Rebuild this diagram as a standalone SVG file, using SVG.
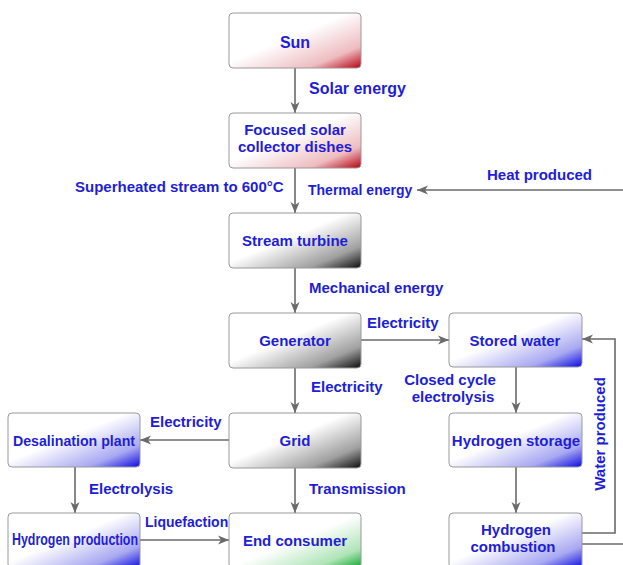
<svg xmlns="http://www.w3.org/2000/svg" width="623" height="565" viewBox="0 0 623 565">
<defs>
<style>
.box{stroke:#9a9a9a;stroke-width:1}
.t{font-family:"Liberation Sans",Arial,sans-serif;font-weight:bold;font-size:15px;fill:#1e1ed8;text-anchor:middle}
.l{font-family:"Liberation Sans",Arial,sans-serif;font-weight:bold;font-size:15px;fill:#1e1ed8}
.c{fill:none;stroke:#6a6a6a;stroke-width:1.6}
</style>
<marker id="ah" markerUnits="userSpaceOnUse" markerWidth="12" markerHeight="10" refX="11" refY="5" orient="auto">
<path d="M0,0.5 L11,5 L0,9.5 L3,5 Z" fill="#6a6a6a"/>
</marker>
<linearGradient id="gr" x1="0" y1="0" x2="1" y2="1"><stop offset="0" stop-color="#fff"/><stop offset="0.45" stop-color="#fff"/><stop offset="0.8" stop-color="#eebcc0"/><stop offset="1" stop-color="#b80010"/></linearGradient>
<linearGradient id="gk" x1="0" y1="0" x2="1" y2="1"><stop offset="0" stop-color="#fff"/><stop offset="0.45" stop-color="#fff"/><stop offset="0.8" stop-color="#a0a0a0"/><stop offset="1" stop-color="#0c0c0c"/></linearGradient>
<linearGradient id="gb" x1="0" y1="0" x2="1" y2="1"><stop offset="0" stop-color="#fff"/><stop offset="0.45" stop-color="#fff"/><stop offset="0.8" stop-color="#a8a8f2"/><stop offset="1" stop-color="#0a0ae0"/></linearGradient>
<linearGradient id="gg" x1="0" y1="0" x2="1" y2="1"><stop offset="0" stop-color="#fff"/><stop offset="0.5" stop-color="#fff"/><stop offset="0.82" stop-color="#b0e4b8"/><stop offset="1" stop-color="#08a828"/></linearGradient>
</defs>
<rect width="623" height="565" fill="#fff"/>
<g id="connectors">
<path class="c" d="M295,68 V113" marker-end="url(#ah)"/>
<path class="c" d="M295,168 V213" marker-end="url(#ah)"/>
<path class="c" d="M623,190 H417" marker-end="url(#ah)"/>
<path class="c" d="M295,268 V313" marker-end="url(#ah)"/>
<path class="c" d="M361,340 H449" marker-end="url(#ah)"/>
<path class="c" d="M295,368 V413" marker-end="url(#ah)"/>
<path class="c" d="M516,367 V413" marker-end="url(#ah)"/>
<path class="c" d="M516,467 V513" marker-end="url(#ah)"/>
<path class="c" d="M582,533 H615 V339 H582" marker-end="url(#ah)"/>
<path class="c" d="M582,544 H623"/>
<path class="c" d="M229,440 H140" marker-end="url(#ah)"/>
<path class="c" d="M75,467 V513" marker-end="url(#ah)"/>
<path class="c" d="M295,468 V513" marker-end="url(#ah)"/>
<path class="c" d="M140,540 H229" marker-end="url(#ah)"/>
<text class="l" x="309" y="94" style="font-size:16px">Solar energy</text>
<text class="l" x="75" y="192">Superheated stream to 600°C</text>
<text class="l" x="308" y="195" style="font-size:14px">Thermal energy</text>
<text class="l" x="487" y="180">Heat produced</text>
<text class="l" x="309" y="293">Mechanical energy</text>
<text class="l" x="367" y="328">Electricity</text>
<text class="l" x="311" y="392">Electricity</text>
<text class="t" x="450" y="385">Closed cycle</text>
<text class="t" x="453" y="402">electrolysis</text>
<text class="t" x="600" y="434" transform="rotate(-90 600 434)" dy="5">Water produced</text>
<text class="l" x="150" y="427">Electricity</text>
<text class="l" x="89" y="494">Electrolysis</text>
<text class="l" x="309" y="494">Transmission</text>
<text class="l" x="145" y="527" style="font-size:14px">Liquefaction</text>
</g>
<g id="sun"><rect class="box" x="229" y="13" width="132" height="55" rx="4" fill="url(#gr)"/><text class="t" x="295" y="48" style="font-size:16px">Sun</text></g>
<g id="collector"><rect class="box" x="229" y="113" width="132" height="55" rx="4" fill="url(#gr)"/><text class="t" x="295" y="135">Focused solar</text><text class="t" x="295" y="152">collector dishes</text></g>
<g id="turbine"><rect class="box" x="229" y="213" width="132" height="55" rx="4" fill="url(#gk)"/><text class="t" x="295" y="246">Stream turbine</text></g>
<g id="generator"><rect class="box" x="229" y="313" width="132" height="55" rx="4" fill="url(#gk)"/><text class="t" x="295" y="346">Generator</text></g>
<g id="grid"><rect class="box" x="229" y="413" width="132" height="55" rx="4" fill="url(#gk)"/><text class="t" x="295" y="446">Grid</text></g>
<g id="consumer"><rect class="box" x="229" y="513" width="132" height="55" rx="4" fill="url(#gg)"/><text class="t" x="295" y="546">End consumer</text></g>
<g id="stored-water"><rect class="box" x="449" y="313" width="133" height="54" rx="4" fill="url(#gb)"/><text class="t" x="515" y="346">Stored water</text></g>
<g id="hydrogen-storage"><rect class="box" x="449" y="413" width="133" height="54" rx="4" fill="url(#gb)"/><text class="t" x="516" y="446">Hydrogen storage</text></g>
<g id="hydrogen-combustion"><rect class="box" x="449" y="513" width="133" height="55" rx="4" fill="url(#gb)"/><text class="t" x="516" y="535">Hydrogen</text><text class="t" x="513" y="552">combustion</text></g>
<g id="desalination"><rect class="box" x="8" y="413" width="132" height="54" rx="4" fill="url(#gb)"/><text class="t" x="74" y="446" textLength="122" lengthAdjust="spacingAndGlyphs">Desalination plant</text></g>
<g id="hydrogen-production"><rect class="box" x="8" y="513" width="132" height="55" rx="4" fill="url(#gb)"/><text class="t" x="75" y="545" style="font-size:16px" textLength="126" lengthAdjust="spacingAndGlyphs">Hydrogen production</text></g>
</svg>
